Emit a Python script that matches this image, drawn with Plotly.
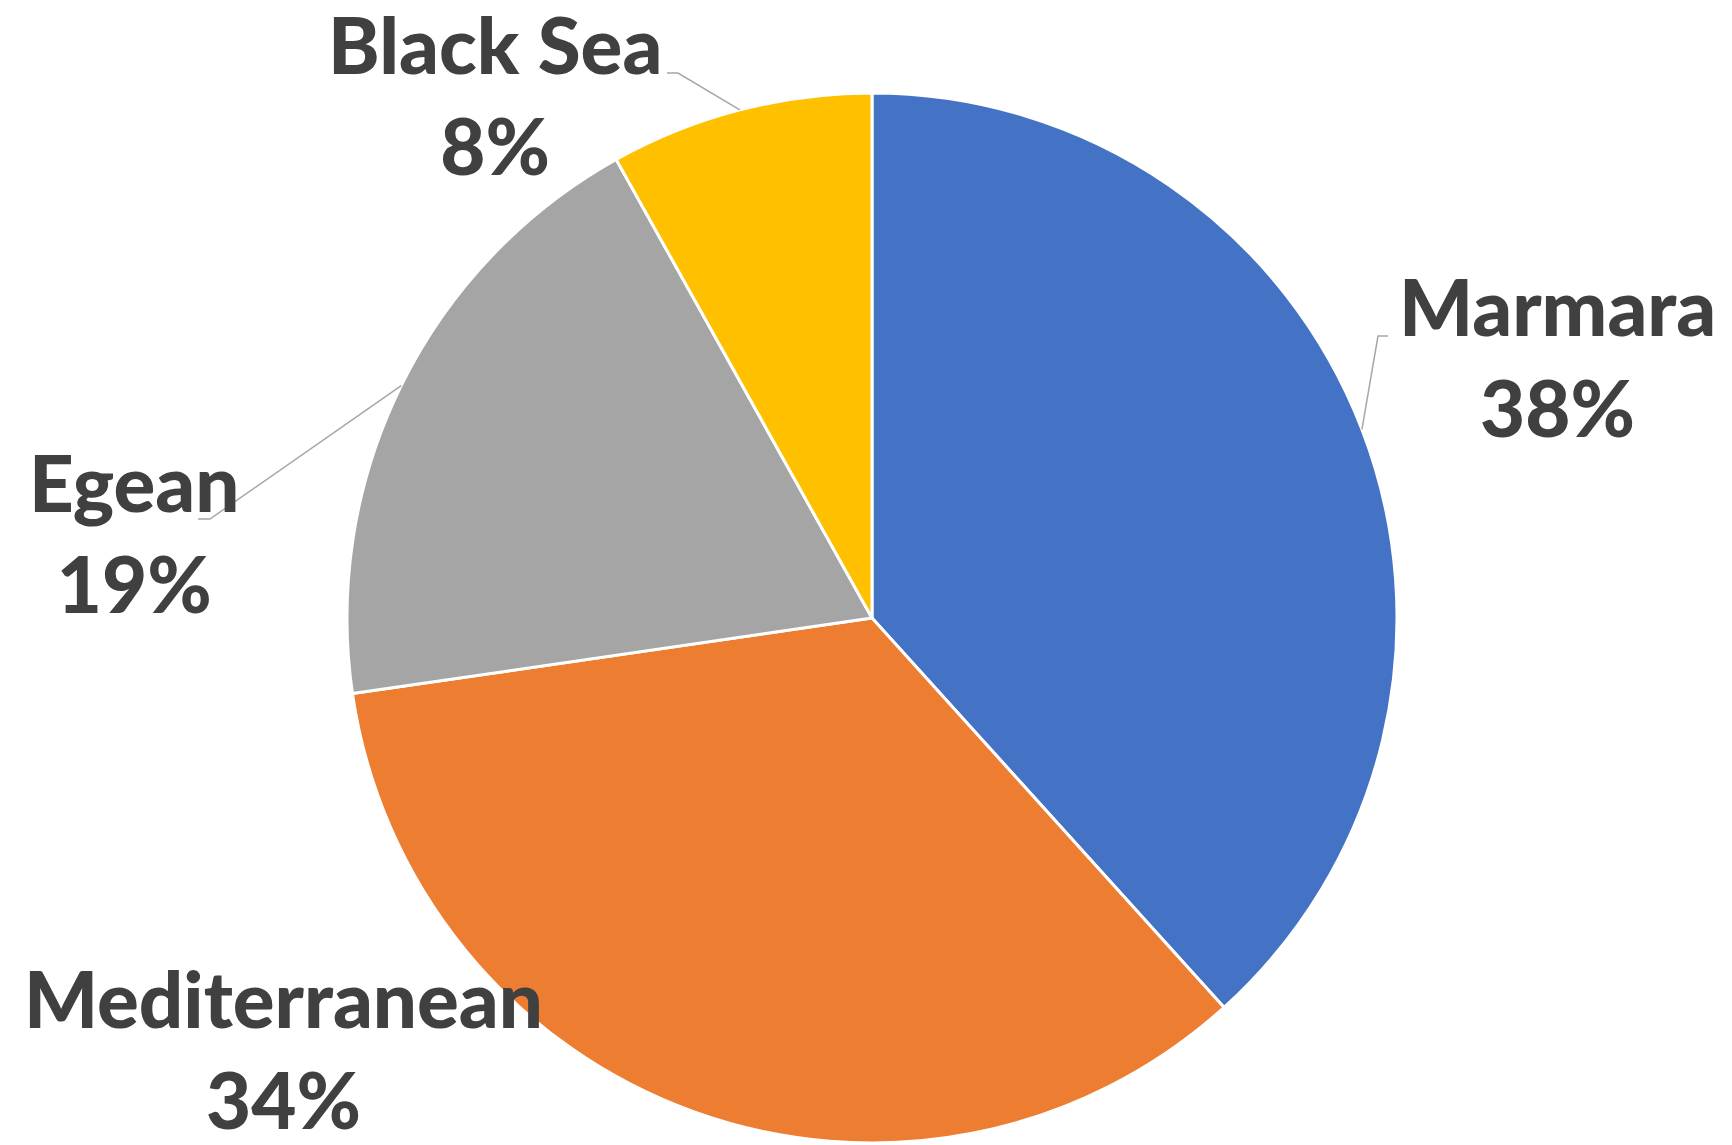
import math
import plotly.graph_objects as go

# ---- data ----
regions = ["Marmara", "Mediterranean", "Egean", "Black Sea"]
shares = [38.3, 34.4, 19.2, 8.1]
colors = ["#4472C4", "#ED7D31", "#A5A5A5", "#FFC000"]

# ---- layout constants (pixels, page coordinates) ----
W, H = 1732, 1145
OFF = 8  # default page body margin
CX, CY, R = 872, 618, 525
TEXT_COLOR = "#404040"
FONT = "Lato"
FS = 78

# label block centres (pixels) and leader-line elbows (None = no leader)
label_pos = {
    "Marmara": (1557, 356),
    "Mediterranean": (283, 1048),
    "Egean": (134, 532),
    "Black Sea": (495, 95),
}
elbows = {
    "Marmara": [(1378, 336), (1388, 336)],
    "Mediterranean": None,
    "Egean": [(210, 519), (198, 519)],
    "Black Sea": [(678, 73), (667, 73)],
}


def px(x):
    return (x - OFF) / W


def py(y):
    return 1 - (y - OFF) / H


fig = go.Figure(
    go.Pie(
        labels=regions,
        values=shares,
        sort=False,
        direction="clockwise",
        rotation=0,
        marker=dict(colors=colors, line=dict(color="white", width=3)),
        textinfo="none",
        hoverinfo="label+percent",
        domain=dict(x=[px(CX - R), px(CX + R)], y=[py(CY + R), py(CY - R)]),
        showlegend=False,
    )
)

total = sum(shares)
cum = 0.0
annotations = []
shapes = []
for name, v in zip(regions, shares):
    mid = (cum + v / 2) / total * 2 * math.pi
    cum += v
    pct = round(v / total * 100)
    lx, ly = label_pos[name]
    annotations.append(
        dict(
            x=px(lx), y=py(ly), xref="paper", yref="paper",
            xanchor="center", yanchor="middle", showarrow=False,
            text=f"{name}<br>{pct}%",
            font=dict(family=FONT, size=FS, color=TEXT_COLOR, weight=900),
            align="center",
        )
    )
    if elbows[name]:
        sx = CX + R * math.sin(mid)
        sy = CY - R * math.cos(mid)
        pts = [(sx, sy)] + elbows[name]
        path = "M " + " L ".join(f"{px(a)},{py(b)}" for a, b in pts)
        shapes.append(
            dict(type="path", path=path, xref="paper", yref="paper",
                 line=dict(color="#A6A6A6", width=1.5))
        )

fig.update_layout(
    width=W, height=H,
    margin=dict(l=0, r=0, t=0, b=0),
    paper_bgcolor="white",
    plot_bgcolor="white",
    annotations=annotations,
    shapes=shapes,
)

fig.write_html("out.html")
